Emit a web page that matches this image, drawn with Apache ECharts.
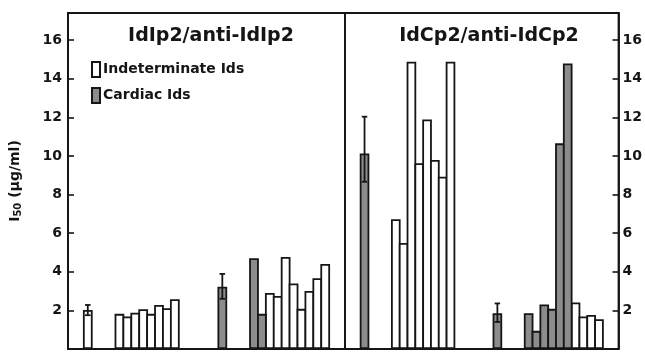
<!DOCTYPE html>
<html><head><meta charset="utf-8">
<script src="https://cdn.jsdelivr.net/npm/echarts@6/dist/echarts.min.js"></script>
<style>html,body{margin:0;padding:0;background:#fff}#c{width:645px;height:352px}</style>
</head><body><div id="c"></div>
<script>
// ---- data ----
const panelTitles = ['IdIp2/anti-IdIp2', 'IdCp2/anti-IdCp2'];
const seriesNames = ['Indeterminate Ids', 'Cardiac Ids'];
const yTickLabels = [2, 4, 6, 8, 10, 12, 14, 16];
const slots = ['1','2','3','4','5','6','7','8','9','10','11','12','13','14','15','16','17','18','19','20',
               '21','22','23','24','25','26','27','28','29','30','31','32','33','34','35'];
const _ = null;
const leftIndeterminate = [_,_,2.02,_,_,_,1.82,1.68,1.88,2.06,1.82,2.28,2.11,2.58,_,_,_,_,_,_,_,_,_,_,_,2.90,2.75,4.77,3.39,2.08,3.00,3.66,4.40,_,_];
const leftCardiac       = [_,_,_,_,_,_,_,_,_,_,_,_,_,_,_,_,_,_,_,3.23,_,_,_,4.70,1.82,_,_,_,_,_,_,_,_,_,_];
const leftErrLow        = [_,_,1.75,_,_,_,_,_,_,_,_,_,_,_,_,_,_,_,_,2.60,_,_,_,_,_,_,_,_,_,_,_,_,_,_,_];
const leftErrHigh       = [_,_,2.28,_,_,_,_,_,_,_,_,_,_,_,_,_,_,_,_,3.89,_,_,_,_,_,_,_,_,_,_,_,_,_,_,_];
const rightIndeterminate= [_,_,_,_,_,_,6.72,5.49,14.88,9.62,11.89,9.79,8.92,14.88,_,_,_,_,_,_,_,_,_,_,_,_,_,_,_,2.41,1.68,1.76,1.54,_,_];
const rightCardiac      = [_,_,10.13,_,_,_,_,_,_,_,_,_,_,_,_,_,_,_,_,1.85,_,_,_,1.85,0.94,2.31,2.08,10.65,14.79,_,_,_,_,_,_];
const rightErrLow       = [_,_,8.66,_,_,_,_,_,_,_,_,_,_,_,_,_,_,_,_,1.40,_,_,_,_,_,_,_,_,_,_,_,_,_,_,_];
const rightErrHigh      = [_,_,12.03,_,_,_,_,_,_,_,_,_,_,_,_,_,_,_,_,2.36,_,_,_,_,_,_,_,_,_,_,_,_,_,_,_];

// ---- chart ----
const FONT = 'DejaVu Sans';
const INK = '#151515';
const indetStyle = { color: '#ffffff', borderColor: INK, borderWidth: 1.8 };
const cardStyle  = { color: '#8c8c8c', borderColor: INK, borderWidth: 1.8 };

function errData(lo, hi) {
  const out = [];
  lo.forEach((v, i) => { if (v != null) out.push([slots[i], v, hi[i]]); });
  return out;
}
function errSeries(gi, lo, hi) {
  return {
    type: 'custom', xAxisIndex: gi, yAxisIndex: gi, z: 5,
    data: errData(lo, hi),
    encode: { x: 0, y: [1, 2] },
    renderItem: function (params, api) {
      const x = api.value(0);
      const pLo = api.coord([x, api.value(1)]);
      const pHi = api.coord([x, api.value(2)]);
      const w = api.size([1, 0])[0] * 0.35;
      const st = { stroke: INK, lineWidth: 1.8 };
      return { type: 'group', children: [
        { type: 'line', shape: { x1: pLo[0], y1: pLo[1], x2: pHi[0], y2: pHi[1] }, style: st },
        { type: 'line', shape: { x1: pHi[0] - w, y1: pHi[1], x2: pHi[0] + w, y2: pHi[1] }, style: st },
        { type: 'line', shape: { x1: pLo[0] - w, y1: pLo[1], x2: pLo[0] + w, y2: pLo[1] }, style: st }
      ]};
    }
  };
}
function yAxisFor(gi, pos) {
  return {
    type: 'value', gridIndex: gi, position: pos, min: 0, max: 17.4, interval: 2,
    axisLine: { show: true, lineStyle: { color: INK, width: 1.8 } },
    axisTick: { show: true, inside: true, length: 6, lineStyle: { color: INK, width: 1.6 } },
    splitLine: { show: false },
    axisLabel: {
      margin: pos === 'left' ? 6 : 4, color: INK, fontFamily: FONT, fontSize: 14, fontWeight: 'bold',
      formatter: v => (yTickLabels.indexOf(v) >= 0 ? String(v) : '')
    },
    name: gi === 0 ? '{i|I}{s|50}{i| (μg/ml)}' : '',
    nameLocation: 'middle', nameRotate: 90, nameGap: 45,
    nameTextStyle: { rich: {
      i: { fontFamily: FONT, fontSize: 14, fontWeight: 'bold', color: INK },
      s: { fontFamily: FONT, fontSize: 10, fontWeight: 'bold', color: INK, verticalAlign: 'bottom', padding: [6, 0, 0, 0] }
    } }
  };
}
function xAxisFor(gi) {
  return {
    type: 'category', gridIndex: gi, data: slots, boundaryGap: true,
    axisLine: { show: false }, axisTick: { show: false }, axisLabel: { show: false }
  };
}
function barSeries(gi, name, data, style) {
  return {
    type: 'bar', name: name, xAxisIndex: gi, yAxisIndex: gi, data: data,
    barWidth: '123%', barGap: '-100%', barCategoryGap: '0%',
    itemStyle: style, emphasis: { disabled: true }, animation: false
  };
}

const chart = echarts.init(document.getElementById('c'), null, { renderer: 'canvas' });
chart.setOption({
  animation: false,
  backgroundColor: '#ffffff',
  title: [
    { text: panelTitles[0], left: 206, top: 22, textAlign: 'center',
      textStyle: { fontFamily: FONT, fontSize: 19, fontWeight: 'bold', color: INK } },
    { text: panelTitles[1], left: 484, top: 22, textAlign: 'center',
      textStyle: { fontFamily: FONT, fontSize: 19, fontWeight: 'bold', color: INK } }
  ],
  legend: {
    data: seriesNames, orient: 'vertical', left: 86, top: 56, itemWidth: 8, itemHeight: 15, itemGap: 9,
    icon: 'rect', selectedMode: false,
    textStyle: { fontFamily: FONT, fontSize: 14, fontWeight: 'bold', color: INK, padding: [0, 0, 0, -2] }
  },
  grid: [
    { left: 68, right: 300, top: 13, bottom: 3, show: true, borderColor: INK, borderWidth: 1.8 },
    { left: 345, right: 23, top: 13, bottom: 3, show: true, borderColor: INK, borderWidth: 1.8 }
  ],
  xAxis: [xAxisFor(0), xAxisFor(1)],
  yAxis: [yAxisFor(0, 'left'), yAxisFor(1, 'right')],
  series: [
    barSeries(0, seriesNames[0], leftIndeterminate, indetStyle),
    barSeries(0, seriesNames[1], leftCardiac, cardStyle),
    barSeries(1, seriesNames[0], rightIndeterminate, indetStyle),
    barSeries(1, seriesNames[1], rightCardiac, cardStyle),
    errSeries(0, leftErrLow, leftErrHigh),
    errSeries(1, rightErrLow, rightErrHigh)
  ]
});
</script></body></html>
